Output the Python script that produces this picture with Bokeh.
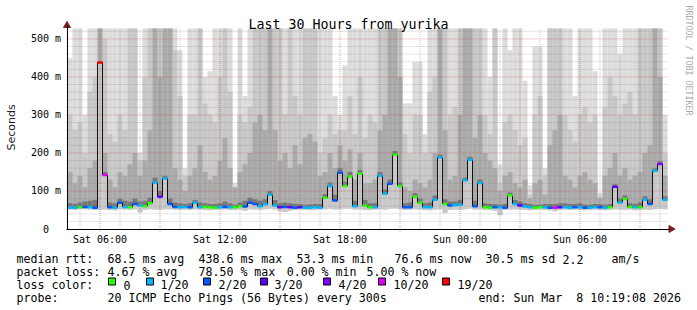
import math
import numpy as np
from bokeh.plotting import figure
from bokeh.models import Range1d, FixedTicker, Label, ColumnDataSource, LinearAxis
from bokeh.core.properties import value
from bokeh.embed import file_html
from bokeh.resources import INLINE

# ---------------- data (15-minute samples, hours after Sat 00:00) ----------------
START_HOUR = 4.5
STEP_HOURS = 0.25

median_ms = [
    56, 56, 57, 58, 57, 56, 438, 142, 57, 56, 69, 58, 57, 66, 62, 60, 68, 122, 85, 133,
    66, 58, 57, 58, 57, 69, 57, 58, 57, 56, 57, 58, 57, 57, 60, 59, 69, 66, 60, 65,
    90, 62, 57, 58, 57, 56, 57, 56, 56, 57, 56, 82, 113, 75, 148, 113, 138, 60, 145, 62,
    57, 57, 140, 93, 119, 195, 113, 57, 57, 85, 69, 57, 57, 77, 188, 66, 62, 63, 64, 128,
    182, 60, 121, 57, 56, 57, 57, 56, 88, 66, 62, 59, 57, 56, 57, 57, 56, 56, 57, 57,
    56, 57, 57, 56, 56, 57, 57, 56, 57, 111, 70, 79, 58, 57, 57, 77, 66, 153, 171, 77,
]
loss_pings = [
    1, 1, 0, 2, 1, 2, 19, 10, 2, 1, 2, 1, 0, 2, 1, 0, 0, 1, 3, 1,
    2, 2, 1, 1, 2, 1, 1, 0, 0, 0, 1, 2, 1, 0, 0, 2, 2, 2, 1, 1,
    1, 1, 3, 2, 3, 2, 3, 1, 1, 1, 1, 0, 1, 2, 2, 0, 0, 1, 0, 0,
    0, 1, 1, 1, 2, 0, 0, 2, 2, 0, 0, 1, 1, 1, 1, 0, 2, 1, 1, 1,
    1, 2, 1, 0, 0, 2, 1, 2, 0, 1, 3, 1, 1, 0, 0, 1, 2, 10, 3, 1,
    1, 2, 1, 2, 1, 1, 2, 1, 0, 3, 1, 0, 0, 1, 0, 1, 2, 1, 4, 1,
]
smoke_min_ms = [
    51, 50, 52, 52, 51, 50, 50, 51, 50, 49, 52, 51, 50, 52, 44, 50, 52, 51, 50, 52,
    52, 51, 50, 51, 50, 52, 51, 50, 49, 50, 51, 52, 50, 50, 51, 48, 52, 51, 50, 52,
    53, 51, 47, 45, 48, 50, 51, 50, 49, 50, 51, 52, 53, 51, 52, 53, 54, 51, 52, 50,
    50, 51, 52, 51, 53, 54, 52, 50, 51, 52, 51, 50, 49, 51, 52, 42, 50, 51, 50, 52,
    54, 51, 52, 50, 50, 48, 36, 50, 51, 52, 51, 50, 49, 50, 51, 50, 49, 47, 50, 51,
    50, 51, 50, 49, 50, 51, 50, 49, 50, 52, 51, 50, 51, 49, 50, 51, 50, 52, 53, 52,
]
smoke_dark_ms = [
    68, 66, 70, 72, 74, 76, 440, 150, 70, 68, 80, 74, 72, 80, 72, 74, 82, 135, 100, 140,
    80, 70, 68, 66, 68, 76, 70, 68, 66, 66, 68, 72, 68, 64, 70, 74, 82, 78, 74, 78,
    100, 76, 68, 70, 68, 66, 66, 64, 65, 66, 66, 92, 122, 90, 160, 124, 150, 74, 155, 76,
    68, 68, 150, 104, 130, 205, 122, 68, 70, 95, 80, 68, 70, 88, 195, 78, 72, 72, 76, 135,
    190, 74, 130, 68, 66, 66, 64, 66, 96, 76, 72, 68, 66, 64, 64, 66, 66, 66, 68, 68,
    66, 66, 68, 64, 64, 66, 66, 64, 66, 118, 80, 88, 68, 66, 70, 86, 78, 160, 178, 86,
]
smoke_mid_ms = [
    150, 120, 140, 110, 160, 180, 527, 200, 130, 110, 150, 140, 170, 200, 140, 180, 260, 527, 400, 527,
    527, 160, 130, 100, 140, 160, 220, 150, 130, 140, 180, 240, 160, 110, 150, 170, 200, 280, 300, 260,
    527, 260, 180, 200, 160, 220, 170, 240, 250, 230, 140, 150, 200, 160, 220, 180, 210, 130, 200, 120,
    120, 130, 260, 300, 527, 527, 400, 110, 100, 130, 120, 110, 130, 200, 527, 260, 130, 140, 300, 527,
    527, 240, 300, 200, 180, 160, 100, 140, 150, 120, 110, 130, 80, 120, 130, 90, 220, 260, 300, 140,
    130, 110, 140, 150, 130, 120, 80, 140, 160, 200, 140, 160, 130, 140, 150, 200, 220, 527, 400, 140,
]
smoke_light_ms = [
    300, 260, 280, 200, 360, 400, 527, 500, 250, 230, 300, 260, 527, 527, 180, 400, 527, 527, 527, 527,
    527, 470, 350, 140, 300, 300, 527, 330, 300, 280, 400, 527, 360, 110, 300, 280, 320, 527, 527, 527,
    527, 527, 527, 300, 527, 350, 300, 527, 527, 527, 200, 240, 300, 250, 260, 260, 350, 250, 400, 240,
    300, 280, 527, 527, 527, 527, 527, 250, 200, 300, 300, 200, 360, 400, 527, 527, 300, 320, 527, 527,
    527, 527, 527, 300, 250, 527, 120, 280, 300, 260, 220, 240, 90, 300, 350, 140, 527, 527, 527, 300,
    260, 230, 300, 320, 280, 300, 85, 320, 400, 350, 300, 330, 360, 300, 527, 527, 527, 527, 527, 200,
]
smoke_max_ms = [
    450, 527, 527, 300, 527, 527, 527, 527, 527, 527, 527, 527, 527, 527, 200, 527, 527, 527, 527, 527,
    527, 527, 470, 160, 527, 527, 527, 400, 415, 527, 527, 527, 527, 120, 527, 350, 527, 527, 527, 527,
    527, 527, 527, 527, 527, 527, 527, 527, 527, 527, 527, 527, 527, 350, 300, 430, 527, 527, 527, 527,
    527, 527, 527, 527, 527, 527, 527, 330, 330, 440, 440, 250, 527, 527, 527, 527, 527, 527, 527, 527,
    527, 527, 527, 527, 400, 527, 170, 527, 470, 527, 527, 390, 115, 480, 480, 160, 527, 527, 527, 527,
    527, 350, 527, 527, 527, 415, 95, 527, 527, 527, 460, 527, 527, 527, 527, 527, 527, 527, 527, 300,
]

y_ticks = [0, 100, 200, 300, 400, 500]
y_tick_labels = ["0\u00a0\u00a0", "100 m", "200 m", "300 m", "400 m", "500 m"]
x_ticks = [6, 12, 18, 24, 30]
x_tick_labels = ["Sat 06:00", "Sat 12:00", "Sat 18:00", "Sun 00:00", "Sun 06:00"]
grid_hours = list(range(5, 35))
grid_ms = list(range(20, 521, 20))

loss_levels = [0, 1, 2, 3, 4, 10, 19]
loss_level_labels = ["0", "1/20", "2/20", "3/20", "4/20", "10/20", "19/20"]
loss_level_colors = ["#26ff00", "#00b8ff", "#0059ff", "#5e00ff", "#7e00ff", "#dd00ff", "#ff0000"]

title_text = "Last 30 Hours from yurika"
legend_rows = [
    [(0, "median rtt:"), (13, "68.5 ms avg"), (26, "438.6 ms max"), (40, "53.3 ms min"),
     (54, "76.6 ms now"), (67, "30.5 ms sd"), (78, "2.2"), (85, "am/s")],
    [(0, "packet loss:"), (13, "4.67 % avg"), (26, "78.50 % max"), (38.6, "0.00 % min"), (50, "5.00 % now")],
    [(0, "loss color:")],
    [(0, "probe:"), (13, "20 ICMP Echo Pings (56 Bytes) every 300s"),
     (66, "end: Sun Mar\u00a0 8 10:19:08 2026")],
]

# ---------------- layout constants (pixels) ----------------
W, H = 697, 310
PLOT_L, PLOT_R = 66, 668          # plot area, canvas px
Y_ZERO_PX = 228.5                  # canvas y of 0 ms
PX_PER_HOUR = 20.0
PX_PER_MS = 200.0 / 526.0
Y_TOP_MS = 526
X_ORIGIN_HOUR = 6 - 99.5 / PX_PER_HOUR   # hour at canvas x = 0
MONO = "DejaVu Sans Mono"
LEG_FONT = "11.6px"
CHAR_W = 7.0
LEG_X0 = 16
LEG_BASE = [258.5, 271.5, 284.5, 297.5]
BOX_LEFT = [108, 146, 203, 260, 323, 378, 442]
BOX_LABEL_X = [123, 160, 218, 274, 338, 393, 457]
ARROW_COLOR = "#7f1f1f"


def hour_at(cx):
    return X_ORIGIN_HOUR + cx / PX_PER_HOUR


def ms_at(cy):
    return (Y_ZERO_PX - cy) / PX_PER_MS


def color_for_loss(n):
    col = loss_level_colors[0]
    for lvl, c in zip(loss_levels, loss_level_colors):
        if n >= lvl:
            col = c
    return col


n = len(median_ms)
t = START_HOUR + STEP_HOURS * np.arange(n)
src = ColumnDataSource(dict(
    t=t, med=median_ms, lo=smoke_min_ms, u1=smoke_dark_ms, u2=smoke_mid_ms,
    u3=smoke_light_ms, u4=smoke_max_ms,
    x0=t - STEP_HOURS / 2, x1=t + STEP_HOURS / 2,
    col=[color_for_loss(v) for v in loss_pings],
))

p = figure(width=W, height=H, x_range=Range1d(hour_at(0), hour_at(W)),
           y_range=Range1d(ms_at(H), ms_at(0)), x_axis_type=None, y_axis_type=None,
           output_backend="svg", toolbar_location=None, min_border=0)
p.extra_x_ranges = {"px": Range1d(0, W)}
p.extra_y_ranges = {"px": Range1d(0, H)}
p.outline_line_color = None
p.background_fill_color = "white"
p.border_fill_color = "white"

# smoke
p.vbar(x="t", width=STEP_HOURS, bottom="lo", top="u4", fill_color="#dcdcdc", line_color=None, source=src)
p.vbar(x="t", width=STEP_HOURS, bottom="lo", top="u3", fill_color="#c8c8c8", line_color=None, source=src)
p.vbar(x="t", width=STEP_HOURS, bottom="med", top="u2", fill_color="#aaaaaa", line_color=None, source=src)
p.vbar(x="t", width=STEP_HOURS, bottom="med", top="u1", fill_color="#777777", line_color=None, source=src)

# grid (on top of the smoke, limited to the plot area)
gx_minor = [h for h in grid_hours if h % 3 != 0]
gx_major = [h for h in grid_hours if h % 3 == 0]
gy_minor = [v for v in grid_ms if v % 100 != 0]
gy_major = [v for v in grid_ms if v % 100 == 0]
x_lo, x_hi = hour_at(PLOT_L), hour_at(PLOT_R)
p.segment(x0=gx_minor, x1=gx_minor, y0=0, y1=Y_TOP_MS, line_color="#808080", line_alpha=0.4,
          line_dash="1 1", line_width=1)
p.segment(x0=x_lo, x1=x_hi, y0=gy_minor, y1=gy_minor, line_color="#808080", line_alpha=0.4,
          line_dash="1 1", line_width=1)
p.segment(x0=gx_major, x1=gx_major, y0=ms_at(Y_ZERO_PX + 3), y1=Y_TOP_MS, line_color="#cc3333",
          line_alpha=0.45, line_dash="1 1", line_width=1)
p.segment(x0=x_lo, x1=x_hi, y0=gy_major, y1=gy_major, line_color="#cc3333", line_alpha=0.45,
          line_dash="1 1", line_width=1)

# median line coloured by loss
p.step(x="t", y="med", mode="center", line_color="#111111", line_width=1, source=src)
p.segment(x0="x0", x1="x1", y0="med", y1="med", line_color="col", line_width=2.5, source=src)

# axes placed at the plot area's edges
yax = LinearAxis(fixed_location=hour_at(66.5), bounds=(0, ms_at(25)),
                 ticker=FixedTicker(ticks=y_ticks),
                 major_label_overrides=dict(zip(y_ticks, y_tick_labels)))
xax = LinearAxis(fixed_location=0, bounds=(hour_at(PLOT_L), hour_at(669)),
                 ticker=FixedTicker(ticks=x_ticks),
                 major_label_overrides=dict(zip(x_ticks, x_tick_labels)))
for ax in (xax, yax):
    ax.axis_line_color = "black"
    ax.axis_line_width = 1
    ax.major_tick_in = 0
    ax.major_tick_out = 0
    ax.minor_tick_line_color = None
    ax.major_label_text_font = MONO
    ax.major_label_text_font_size = "10px"
    ax.major_label_text_color = "black"
yax.major_label_standoff = 6
xax.major_label_standoff = 5
p.add_layout(yax, "left")
p.add_layout(xax, "below")

# axis arrows
p.scatter(x=[hour_at(66.5)], y=[ms_at(25)], marker="triangle", size=7,
          fill_color=ARROW_COLOR, line_color=ARROW_COLOR)
p.scatter(x=[hour_at(670.5)], y=[0], marker="triangle", size=7, angle=-math.pi / 2,
          fill_color=ARROW_COLOR, line_color=ARROW_COLOR)

# texts around the plot
p.add_layout(Label(x=348, y=H - 23.5, x_units="screen", y_units="screen", text=title_text,
                   text_font=MONO, text_font_size="13.3px", text_align="center",
                   text_baseline="alphabetic", text_color="black"))
p.add_layout(Label(x=10.5, y=H - 127, x_units="screen", y_units="screen", text="Seconds",
                   text_font="DejaVu Sans", text_font_size="11px", text_align="center",
                   text_baseline="middle", angle=math.pi / 2, text_color="#202020"))
p.add_layout(Label(x=688, y=H - 5, x_units="screen", y_units="screen",
                   text="RRDTOOL / TOBI OETIKER", text_font=MONO, text_font_size="8.3px",
                   text_align="left", text_baseline="middle", angle=-math.pi / 2,
                   text_color="#aaaaaa"))

# legend
tx, ty, tt = [], [], []
for row, base in zip(legend_rows, LEG_BASE):
    for col_i, txt in row:
        tx.append(LEG_X0 + CHAR_W * col_i)
        ty.append(H - base)
        tt.append(txt)
for bx, lab in zip(BOX_LABEL_X, loss_level_labels):
    tx.append(bx)
    ty.append(H - LEG_BASE[2])
    tt.append(lab)
p.text(x=tx, y=ty, text=tt, text_font=value(MONO), text_font_size=LEG_FONT,
       text_baseline="alphabetic", text_align="left", text_color="black",
       x_range_name="px", y_range_name="px")
p.rect(x=[b + 3.5 for b in BOX_LEFT], y=[H - (LEG_BASE[2] - 3.5)] * len(BOX_LEFT), width=7, height=7,
       fill_color=loss_level_colors, line_color="black", line_width=1,
       x_range_name="px", y_range_name="px")

open("out.html", "w").write(file_html(p, INLINE))
